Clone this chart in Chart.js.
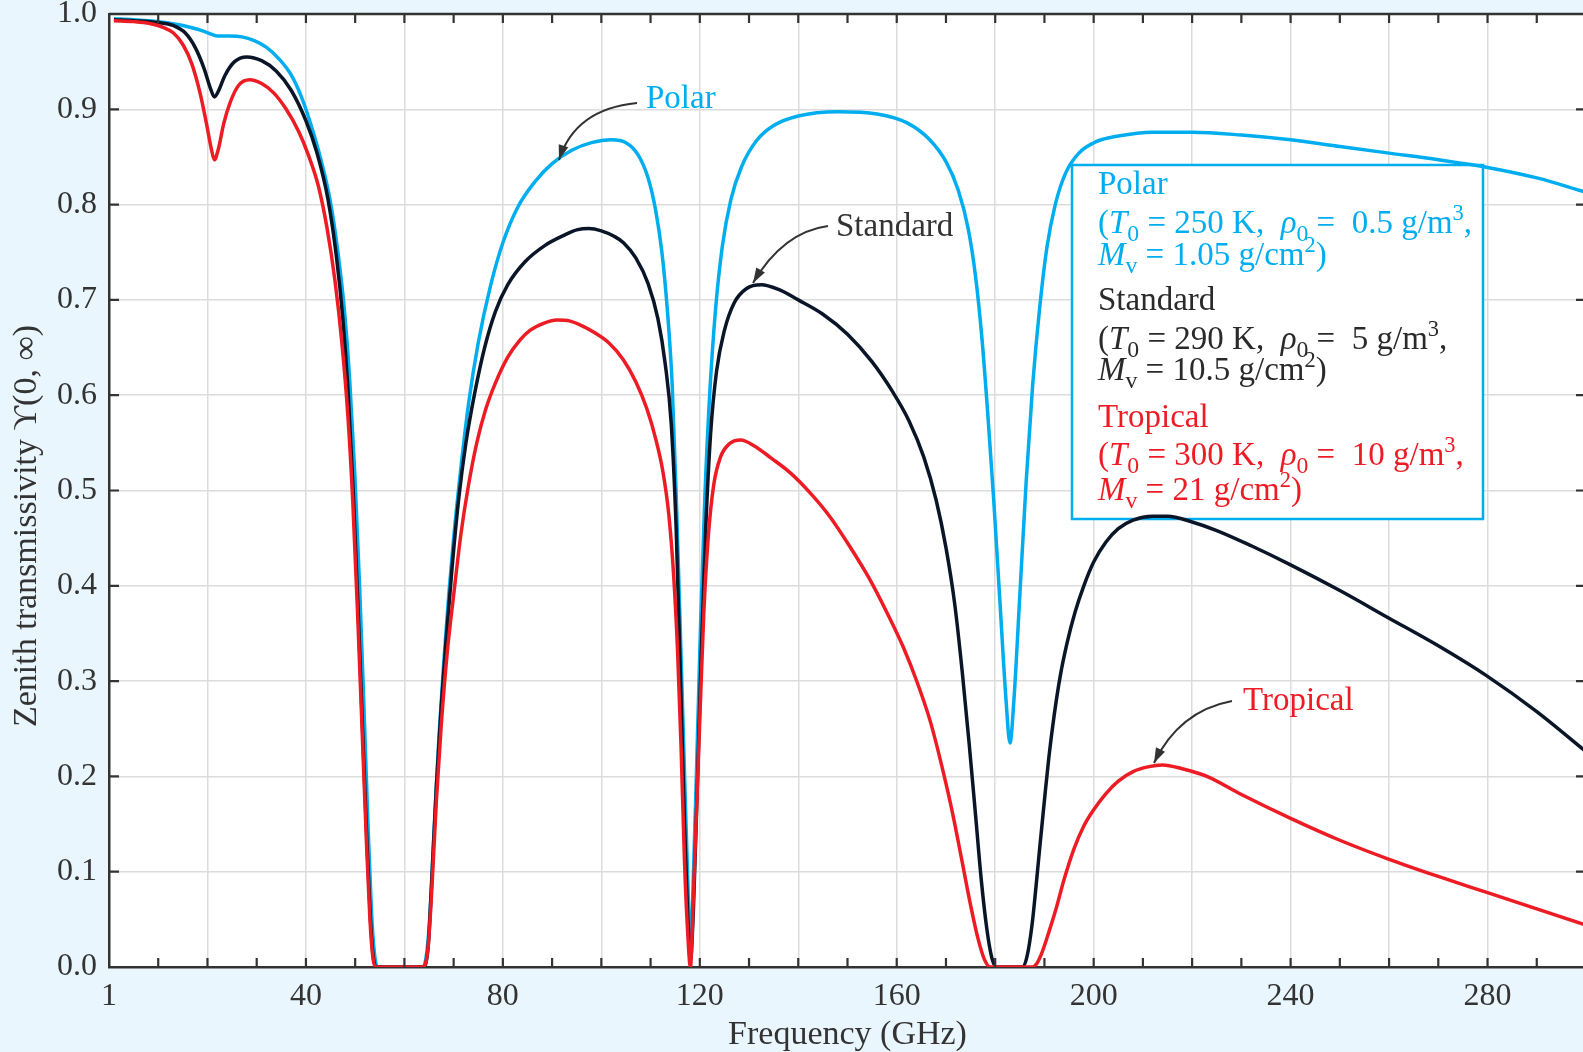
<!DOCTYPE html>
<html><head><meta charset="utf-8">
<script src="https://cdn.jsdelivr.net/npm/chart.js@4.4.1/dist/chart.umd.min.js"></script>
<style>
html,body{margin:0;padding:0;background:#EAF6FD;overflow:hidden;width:1583px;height:1052px;}
#c{position:absolute;left:0;top:0;}
</style></head><body>
<canvas id="c" width="1590" height="1052"></canvas>
<script>
// ---------------- data ----------------
const polarFreq = [1, 5, 10, 15, 18, 20.2, 22, 24.5, 27, 29.5, 32, 34.5, 37, 39, 41, 43, 44.9, 46.5, 47.8, 48.9, 49.9, 50.9, 51.8, 52.6, 53.3, 53.9, 54.5,
  63.8, 65, 66, 67, 68, 69, 70, 71.5, 73, 75, 77.5, 80, 83, 86.5, 90, 94, 98, 102, 105, 107.5, 109.5, 111, 112.3, 113.4, 114.4, 115.3, 116, 116.8, 117.5, 118.1,
  118.6, 119.3, 120.1, 121, 122, 123.2, 124.6, 126.3, 128.5, 131.5, 135, 140, 148, 156, 162, 166.5, 170, 172.5, 174.5, 176, 177.3, 178.5, 179.7, 181, 182.2, 183,
  183.8, 185, 186.3, 187.6, 189, 190.5, 192.2, 194.3, 197, 200.5, 205, 212, 220, 230, 240, 250, 260, 270, 280, 290, 300];
const polarT = [0.995, 0.994, 0.992, 0.988, 0.984, 0.980, 0.977, 0.977, 0.976, 0.972, 0.965, 0.953, 0.936, 0.914, 0.884, 0.848, 0.805, 0.75, 0.69, 0.615, 0.52, 0.40, 0.27, 0.15, 0.06, 0.015, 0,
  0, 0.04, 0.14, 0.24, 0.32, 0.39, 0.45, 0.525, 0.59, 0.655, 0.715, 0.76, 0.797, 0.824, 0.843, 0.857, 0.865, 0.868, 0.865, 0.852, 0.828, 0.795, 0.75, 0.69, 0.61, 0.48, 0.36, 0.22, 0.10, 0.02,
  0.08, 0.20, 0.35, 0.49, 0.60, 0.69, 0.757, 0.805, 0.84, 0.867, 0.883, 0.893, 0.8975, 0.895, 0.886, 0.869, 0.845, 0.815, 0.775, 0.725, 0.66, 0.58, 0.49, 0.38, 0.28, 0.235,
  0.28, 0.39, 0.51, 0.61, 0.69, 0.755, 0.80, 0.833, 0.854, 0.866, 0.872, 0.876, 0.876, 0.873, 0.868, 0.861, 0.854, 0.847, 0.839, 0.828, 0.813];

const standardFreq = [1, 5, 10, 13, 15.5, 17.5, 19.3, 20.6, 21.4, 22.3, 23.5, 25.5, 28, 31, 34, 37, 40, 42.2, 44.5, 46.2, 47.5, 48.6, 49.6, 50.6, 51.5, 52.4, 53.1, 53.7, 54.3,
  63.8, 64.8, 65.5, 66.5, 67.5, 68.5, 69.7, 71, 72.5, 74.2, 76.3, 78.5, 81, 84.5, 88.5, 92.5, 95, 97.5, 100, 102.5, 104.5, 107, 109.5, 111.5, 113, 114.2, 115.2, 116.1, 116.9, 117.5, 118.1,
  118.7, 119.5, 120.3, 121.2, 122.2, 123.4, 125, 127, 129.5, 132.5, 136, 140, 145, 150, 155, 159, 162.5, 165.5, 168, 170, 171.8, 173.3, 174.7, 176, 177.2, 178.3, 179.3, 180.3,
  185.5, 186.5, 187.5, 188.3, 189.1, 190, 190.9, 192, 193.2, 194.6, 196.2, 198, 200, 202.5, 205, 208, 212, 215, 220, 225, 232, 240, 250, 260, 270, 280, 290, 300];
const standardT = [0.994, 0.993, 0.991, 0.988, 0.98, 0.965, 0.943, 0.922, 0.913, 0.92, 0.935, 0.95, 0.955, 0.951, 0.94, 0.92, 0.888, 0.855, 0.805, 0.745, 0.68, 0.60, 0.50, 0.375, 0.25, 0.13, 0.05, 0.01, 0,
  0, 0.02, 0.085, 0.19, 0.275, 0.345, 0.42, 0.49, 0.55, 0.60, 0.65, 0.688, 0.716, 0.74, 0.757, 0.768, 0.7735, 0.775, 0.7725, 0.767, 0.76, 0.744, 0.717, 0.68, 0.632, 0.57, 0.46, 0.30, 0.15, 0.06, 0.008,
  0.06, 0.19, 0.33, 0.46, 0.56, 0.625, 0.668, 0.697, 0.712, 0.716, 0.711, 0.70, 0.685, 0.664, 0.635, 0.605, 0.573, 0.535, 0.49, 0.44, 0.38, 0.31, 0.235, 0.16, 0.09, 0.04, 0.01, 0,
  0, 0.012, 0.045, 0.085, 0.128, 0.175, 0.22, 0.265, 0.305, 0.34, 0.372, 0.40, 0.425, 0.446, 0.46, 0.469, 0.473, 0.473, 0.467, 0.458, 0.442, 0.422, 0.395, 0.366, 0.337, 0.305, 0.268, 0.226];

const tropicalFreq = [1, 5, 8.3, 11, 13.1, 15, 16.8, 18.5, 19.8, 20.8, 21.4, 22.2, 23.3, 24.6, 26.3, 28.6, 31, 33.5, 36, 38.5, 40.5, 42.5, 44.3, 45.9, 47.3, 48.5, 49.5, 50.5, 51.4, 52.3, 53, 53.6, 54.2,
  63.8, 64.8, 65.5, 66.5, 67.5, 68.7, 70, 71.5, 73, 74.7, 76.5, 78.5, 81, 83.5, 85.5, 88.5, 91, 93.5, 96, 98.5, 101.5, 104.5, 107, 109.3, 111, 112.5, 113.7, 114.7, 115.5, 116.2, 116.9, 117.5, 118.1,
  118.6, 119.3, 120, 120.8, 121.7, 122.8, 124.2, 126, 128.3, 131, 134.5, 138.5, 142.5, 146.5, 150.5, 154.5, 158, 161.3, 164.2, 166.8, 169.2, 171.4, 173.3, 175, 176.5, 177.8, 179,
  187.5, 188.5, 189.5, 190.8, 192.3, 194, 196, 198, 200, 202.5, 205, 208, 211, 214, 218, 223, 230, 240, 250, 260, 270, 280, 290, 300];
const tropicalT = [0.993, 0.992, 0.99, 0.986, 0.98, 0.968, 0.948, 0.917, 0.885, 0.858, 0.847, 0.858, 0.885, 0.907, 0.925, 0.931, 0.927, 0.917, 0.90, 0.877, 0.852, 0.82, 0.775, 0.72, 0.655, 0.58, 0.49, 0.37, 0.25, 0.13, 0.05, 0.01, 0,
  0, 0.02, 0.075, 0.175, 0.255, 0.33, 0.39, 0.455, 0.505, 0.55, 0.585, 0.613, 0.64, 0.658, 0.668, 0.676, 0.679, 0.678, 0.673, 0.666, 0.655, 0.637, 0.614, 0.585, 0.555, 0.52, 0.475, 0.41, 0.33, 0.23, 0.11, 0.04, 0,
  0.06, 0.16, 0.26, 0.37, 0.45, 0.505, 0.535, 0.549, 0.553, 0.547, 0.534, 0.518, 0.497, 0.472, 0.441, 0.407, 0.372, 0.336, 0.298, 0.258, 0.21, 0.16, 0.11, 0.065, 0.03, 0.008, 0,
  0, 0.004, 0.015, 0.035, 0.06, 0.092, 0.124, 0.148, 0.165, 0.182, 0.195, 0.205, 0.21, 0.212, 0.208, 0.20, 0.181, 0.156, 0.133, 0.113, 0.095, 0.078, 0.061, 0.044];

const xLabelValues = [0, 40, 80, 120, 160, 200, 240, 280];
const xLabelTexts  = ['1', '40', '80', '120', '160', '200', '240', '280'];
const yTickValues  = [0, 0.1, 0.2, 0.3, 0.4, 0.5, 0.6, 0.7, 0.8, 0.9, 1.0];

const xTitle = 'Frequency (GHz)';
const yTitle = 'Zenith transmissivity \u03D2(0, \u221E)';

// ---------------- style ----------------
const FONT = "'Liberation Serif','Times New Roman','DejaVu Serif',serif";
const CYAN = '#00AEEF', NAVY = '#0A1628', RED = '#ED1C24';
const GRID = '#DCDCDC', AXIS = '#333333', TXT = '#333333';

function pts(f, t){ return f.map((v,i)=>({x:v, y:t[i]})); }

// rich text: styles n=normal, i=italic, b=subscript, p=superscript
function drawRich(ctx, x, y, segs, color, size){
  let cx = x;
  ctx.fillStyle = color;
  ctx.textBaseline = 'alphabetic';
  ctx.textAlign = 'left';
  for (const [t, st] of segs){
    let fs = size, dy = 0, style = '';
    if (st.indexOf('i') >= 0) style = 'italic ';
    if (st.indexOf('b') >= 0){ fs = size*0.72; dy = size*0.24; }
    if (st.indexOf('p') >= 0){ fs = size*0.68; dy = -size*0.40; }
    ctx.font = style + fs + 'px ' + FONT;
    ctx.fillText(t, cx, y + dy);
    cx += ctx.measureText(t).width;
  }
}

const legendBlocks = [
  {color: CYAN, lines: [
    [['Polar','n']],
    [['(','n'],['T','i'],['0','b'],[' = 250 K,  ','n'],['\u03C1','i'],['0','b'],[' =  0.5 g/m','n'],['3','p'],[',','n']],
    [['M','i'],['v','b'],[' = 1.05 g/cm','n'],['2','p'],[')','n']]
  ]},
  {color: '#2A2A2A', lines: [
    [['Standard','n']],
    [['(','n'],['T','i'],['0','b'],[' = 290 K,  ','n'],['\u03C1','i'],['0','b'],[' =  5 g/m','n'],['3','p'],[',','n']],
    [['M','i'],['v','b'],[' = 10.5 g/cm','n'],['2','p'],[')','n']]
  ]},
  {color: RED, lines: [
    [['Tropical','n']],
    [['(','n'],['T','i'],['0','b'],[' = 300 K,  ','n'],['\u03C1','i'],['0','b'],[' =  10 g/m','n'],['3','p'],[',','n']],
    [['M','i'],['v','b'],[' = 21 g/cm','n'],['2','p'],[')','n']]
  ]}
];
const legendBaselines = [[194, 233, 265], [310, 349, 380], [427, 465, 500]];

const bgPlugin = {
  id: 'bg',
  beforeDraw(chart){
    const {ctx, chartArea: a} = chart;
    ctx.save();
    ctx.fillStyle = '#EAF6FD';
    ctx.fillRect(0, 0, chart.width, chart.height);
    ctx.fillStyle = '#FFFFFF';
    ctx.fillRect(a.left, a.top, a.right - a.left, a.bottom - a.top);
    ctx.restore();
  }
};

const boxPlugin = {
  id: 'box',
  beforeDatasetsDraw(chart){
    const ctx = chart.ctx;
    ctx.save();
    ctx.fillStyle = '#FFFFFF';
    ctx.fillRect(1072, 165, 411, 354);
    ctx.strokeStyle = CYAN; ctx.lineWidth = 2.5;
    ctx.strokeRect(1072, 165, 411, 354);
    legendBlocks.forEach((b, bi) => {
      b.lines.forEach((ln, li) => drawRich(ctx, 1098, legendBaselines[bi][li], ln, b.color, 33));
    });
    ctx.restore();
  }
};

const framePlugin = {
  id: 'frame',
  afterDatasetsDraw(chart){
    const {ctx, chartArea: a, scales: {x, y}} = chart;
    ctx.save();
    ctx.strokeStyle = AXIS; ctx.lineWidth = 2.5;
    ctx.beginPath();
    ctx.moveTo(a.left, a.top); ctx.lineTo(a.right, a.top); ctx.lineTo(a.right, a.bottom);
    ctx.stroke();
    ctx.lineWidth = 2.2;
    ctx.beginPath();
    for (let v = 10; v < 300; v += 10){
      const px = x.getPixelForValue(v);
      ctx.moveTo(px, a.bottom); ctx.lineTo(px, a.bottom - 9);
      ctx.moveTo(px, a.top); ctx.lineTo(px, a.top + 9);
    }
    yTickValues.forEach(v => {
      const py = y.getPixelForValue(v);
      ctx.moveTo(a.left, py); ctx.lineTo(a.left + 10, py);
      ctx.moveTo(a.right, py); ctx.lineTo(a.right - 10, py);
    });
    ctx.stroke();
    ctx.restore();
  }
};

function arrow(ctx, p0, c, p1){
  ctx.beginPath();
  ctx.moveTo(p0[0], p0[1]);
  ctx.quadraticCurveTo(c[0], c[1], p1[0], p1[1]);
  ctx.stroke();
  const ang = Math.atan2(p1[1]-c[1], p1[0]-c[0]);
  const L = 15, W = 5;
  ctx.beginPath();
  ctx.moveTo(p1[0], p1[1]);
  ctx.lineTo(p1[0] - L*Math.cos(ang) + W*Math.sin(ang), p1[1] - L*Math.sin(ang) - W*Math.cos(ang));
  ctx.lineTo(p1[0] - L*Math.cos(ang) - W*Math.sin(ang), p1[1] - L*Math.sin(ang) + W*Math.cos(ang));
  ctx.closePath();
  ctx.fill();
}

const annotPlugin = {
  id: 'annot',
  afterDraw(chart){
    const ctx = chart.ctx;
    ctx.save();
    ctx.strokeStyle = '#333333'; ctx.fillStyle = '#333333'; ctx.lineWidth = 2;
    arrow(ctx, [637, 103], [575, 109], [559, 160]);
    arrow(ctx, [828, 226], [783, 232], [753, 283]);
    arrow(ctx, [1232, 701], [1179, 711], [1154, 763]);
    ctx.font = '33px ' + FONT;
    ctx.textBaseline = 'alphabetic'; ctx.textAlign = 'left';
    ctx.fillStyle = CYAN; ctx.fillText('Polar', 646, 108);
    ctx.fillStyle = '#333333'; ctx.fillText('Standard', 836, 236);
    ctx.fillStyle = RED; ctx.fillText('Tropical', 1243, 710);
    // y axis title
    ctx.translate(27, 526);
    ctx.rotate(-Math.PI/2);
    ctx.textAlign = 'center'; ctx.textBaseline = 'middle';
    ctx.fillStyle = TXT;
    ctx.font = '34px ' + FONT;
    ctx.fillText(yTitle, 0, 0);
    ctx.restore();
  }
};

const lineStyle = {borderWidth: 3.5, pointRadius: 0, cubicInterpolationMode: 'monotone', fill: false};

new Chart(document.getElementById('c'), {
  type: 'line',
  data: { datasets: [
    Object.assign({label: 'Tropical', data: pts(tropicalFreq, tropicalT), borderColor: RED}, lineStyle),
    Object.assign({label: 'Standard', data: pts(standardFreq, standardT), borderColor: NAVY}, lineStyle),
    Object.assign({label: 'Polar', data: pts(polarFreq, polarT), borderColor: CYAN}, lineStyle)
  ]},
  options: {
    responsive: false, maintainAspectRatio: false, animation: false, devicePixelRatio: 1,
    layout: {padding: {top: 14, right: 4, left: 0, bottom: 0}},
    plugins: {legend: {display: false}, tooltip: {enabled: false}},
    scales: {
      x: {
        type: 'linear', min: 0, max: 300,
        afterFit(s){ s.height = 85; s.paddingLeft = 0; s.paddingRight = 0; },
        ticks: {stepSize: 10, autoSkip: false, maxRotation: 0, padding: 10, color: TXT,
          font: {family: FONT, size: 32},
          callback(v){ const i = xLabelValues.indexOf(Math.round(v)); return i >= 0 ? xLabelTexts[i] : ''; }},
        grid: {drawTicks: false, lineWidth: 1.5,
          color: c => (c.tick && Math.round(c.tick.value) % 20 === 0) ? GRID : 'rgba(0,0,0,0)'},
        border: {color: AXIS, width: 2.5},
        title: {display: true, text: xTitle, color: TXT, font: {family: FONT, size: 34, lineHeight: 1}, padding: {top: 0, bottom: 0}}
      },
      y: {
        min: 0, max: 1,
        afterFit(s){ s.width = 109; s.paddingTop = 0; s.paddingBottom = 0; },
        ticks: {stepSize: 0.1, padding: 12, color: TXT, font: {family: FONT, size: 32},
          callback: v => v.toFixed(1)},
        grid: {drawTicks: false, lineWidth: 1.5, color: GRID},
        border: {color: AXIS, width: 2.5}
      }
    }
  },
  plugins: [bgPlugin, boxPlugin, framePlugin, annotPlugin]
});
</script>
</body></html>
